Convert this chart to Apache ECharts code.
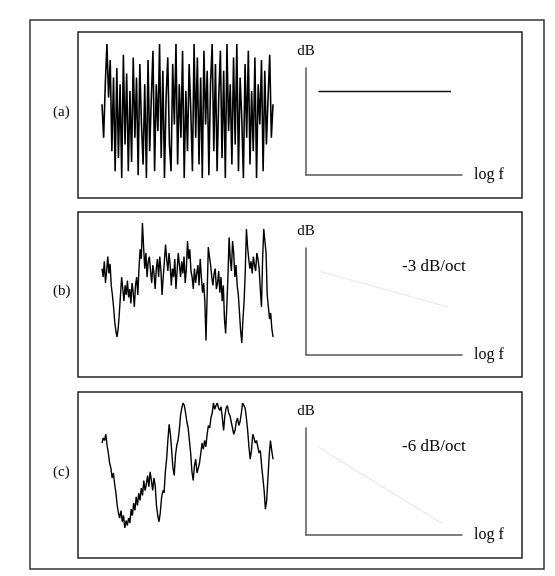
<!DOCTYPE html>
<html>
<head>
<meta charset="utf-8">
<script src="https://cdn.jsdelivr.net/npm/echarts@6/dist/echarts.min.js"></script>
<style>
  html, body { margin: 0; padding: 0; background: #fff; }
  #chart { width: 555px; height: 576px; }
</style>
</head>
<body>
<div id="chart"></div>
<script>
// white noise (a), pink noise (b), brown noise (c) - 0 = bottom, 100 = top
const whiteNoise = [55,30,70,100,60,88,20,75,5,82,15,70,0,92,25,78,5,65,12,90,30,75,2,85,40,10,70,0,88,20,60,95,5,70,35,100,15,80,0,60,90,25,5,85,40,100,10,70,30,95,0,65,20,85,50,5,100,30,90,10,75,0,95,40,80,2,70,100,20,85,5,60,95,15,80,0,100,35,70,10,90,25,100,5,75,45,0,85,30,95,10,65,20,90,0,70,40,88,5,80,25,60,92,30,55];
const pinkNoise = [62,55,68,50,60,72,58,66,48,40,30,18,10,5,12,25,40,55,45,35,48,40,52,38,45,33,50,42,30,48,55,40,62,78,70,100,80,62,75,55,68,72,60,50,65,58,45,62,70,55,72,60,40,55,68,82,70,60,75,65,48,62,55,70,45,60,75,65,55,68,58,72,50,62,85,70,78,60,55,45,62,50,58,65,48,70,55,42,50,35,2,40,80,72,65,55,48,58,62,45,50,60,42,55,35,48,20,8,30,55,88,70,60,85,75,55,65,48,40,25,10,0,20,35,60,95,80,70,62,68,58,72,65,60,75,70,62,45,30,70,95,85,75,40,30,20,25,12,5];
const brownNoise = [68,72,70,75,66,60,52,48,40,44,35,28,18,12,8,14,5,10,0,6,2,8,4,15,10,20,14,25,18,28,22,32,26,38,30,35,42,33,45,38,30,40,34,18,10,5,12,24,30,28,45,55,70,83,75,62,48,42,58,66,70,78,90,96,100,98,92,85,80,70,60,45,38,50,55,44,43,52,60,68,63,70,65,75,82,80,88,92,100,95,98,100,96,94,97,88,78,90,96,98,92,90,85,80,75,78,85,88,82,85,92,100,98,96,88,78,65,55,62,75,72,68,70,65,60,62,50,40,30,15,22,40,58,70,62,55];

// spectrum lines (log f, dB) in 0..1 axis units
const specFlat = [[0.08, 0.78], [0.93, 0.78]];
const specPink = [[0.09, 0.78], [0.91, 0.45]];
const specBrown = [[0.08, 0.82], [0.87, 0.11]];

const panelLabels = ["(a)", "(b)", "(c)"];
const slopeLabels = ["", "-3 dB/oct", "-6 dB/oct"];

const serif = "Liberation Serif";
const chart = echarts.init(document.getElementById("chart"));

const tsTops = [44, 223, 403];
const tsHeights = [134, 120, 125];
const specTops = [68, 248, 428];
const boxes = [[78, 32, 444, 166], [78, 212, 444, 165], [78, 392, 444, 166]];

const grids = [];
const xAxes = [];
const yAxes = [];
const series = [];
const noise = [whiteNoise, pinkNoise, brownNoise];
const spectra = [specFlat, specPink, specBrown];
const specColors = ["#111", "#e6e6e6", "#e2e2e2"];

for (let i = 0; i < 3; i++) {
  // time signal
  grids.push({ left: 102, width: 171, top: tsTops[i], height: tsHeights[i] });
  xAxes.push({ gridIndex: grids.length - 1, type: "value", min: 0, max: noise[i].length - 1, show: false });
  yAxes.push({ gridIndex: grids.length - 1, type: "value", min: 0, max: 100, show: false });
  series.push({
    type: "line", xAxisIndex: grids.length - 1, yAxisIndex: grids.length - 1,
    data: noise[i].map((v, k) => [k, v]),
    showSymbol: false, animation: false,
    lineStyle: { color: "#000", width: i === 0 ? 1.6 : 1.4 }
  });

  // spectrum
  grids.push({ left: 306, width: 156, top: specTops[i], height: 107 });
  xAxes.push({
    gridIndex: grids.length - 1, type: "value", min: 0, max: 1,
    name: "log f", nameLocation: "end", nameGap: 12,
    nameTextStyle: { fontFamily: serif, fontSize: 16, color: "#000", verticalAlign: "middle", padding: [0, 0, 2, 0] },
    axisLine: { show: true, lineStyle: { color: "#555", width: 1.5 } },
    axisTick: { show: false }, axisLabel: { show: false }, splitLine: { show: false }
  });
  yAxes.push({
    gridIndex: grids.length - 1, type: "value", min: 0, max: 1,
    name: "dB", nameLocation: "end", nameGap: 9,
    nameTextStyle: { fontFamily: serif, fontSize: 15, color: "#000", align: "center" },
    axisLine: { show: true, lineStyle: { color: "#555", width: 1.5 } },
    axisTick: { show: false }, axisLabel: { show: false }, splitLine: { show: false }
  });
  series.push({
    type: "line", xAxisIndex: grids.length - 1, yAxisIndex: grids.length - 1,
    data: spectra[i], showSymbol: false, animation: false,
    lineStyle: { color: specColors[i], width: i === 0 ? 1.5 : 1 }
  });
}

const graphic = [
  { type: "rect", shape: { x: 30, y: 20, width: 514, height: 549 }, style: { fill: "none", stroke: "#333", lineWidth: 1.5 } }
];
boxes.forEach((b, i) => {
  graphic.push({ type: "rect", shape: { x: b[0], y: b[1], width: b[2], height: b[3] }, style: { fill: "none", stroke: "#222", lineWidth: 1.5 } });
  graphic.push({
    type: "text", x: 53, y: b[1] + b[3] / 2 - 3,
    style: { text: panelLabels[i], font: "15px " + serif, fill: "#000", verticalAlign: "middle" }
  });
  if (slopeLabels[i]) {
    graphic.push({
      type: "text", x: 402, y: specTops[i] + 19,
      style: { text: slopeLabels[i], font: "17px " + serif, fill: "#000", verticalAlign: "middle" }
    });
  }
});

chart.setOption({
  animation: false,
  grid: grids,
  xAxis: xAxes,
  yAxis: yAxes,
  series: series,
  graphic: graphic
});
</script>
</body>
</html>
